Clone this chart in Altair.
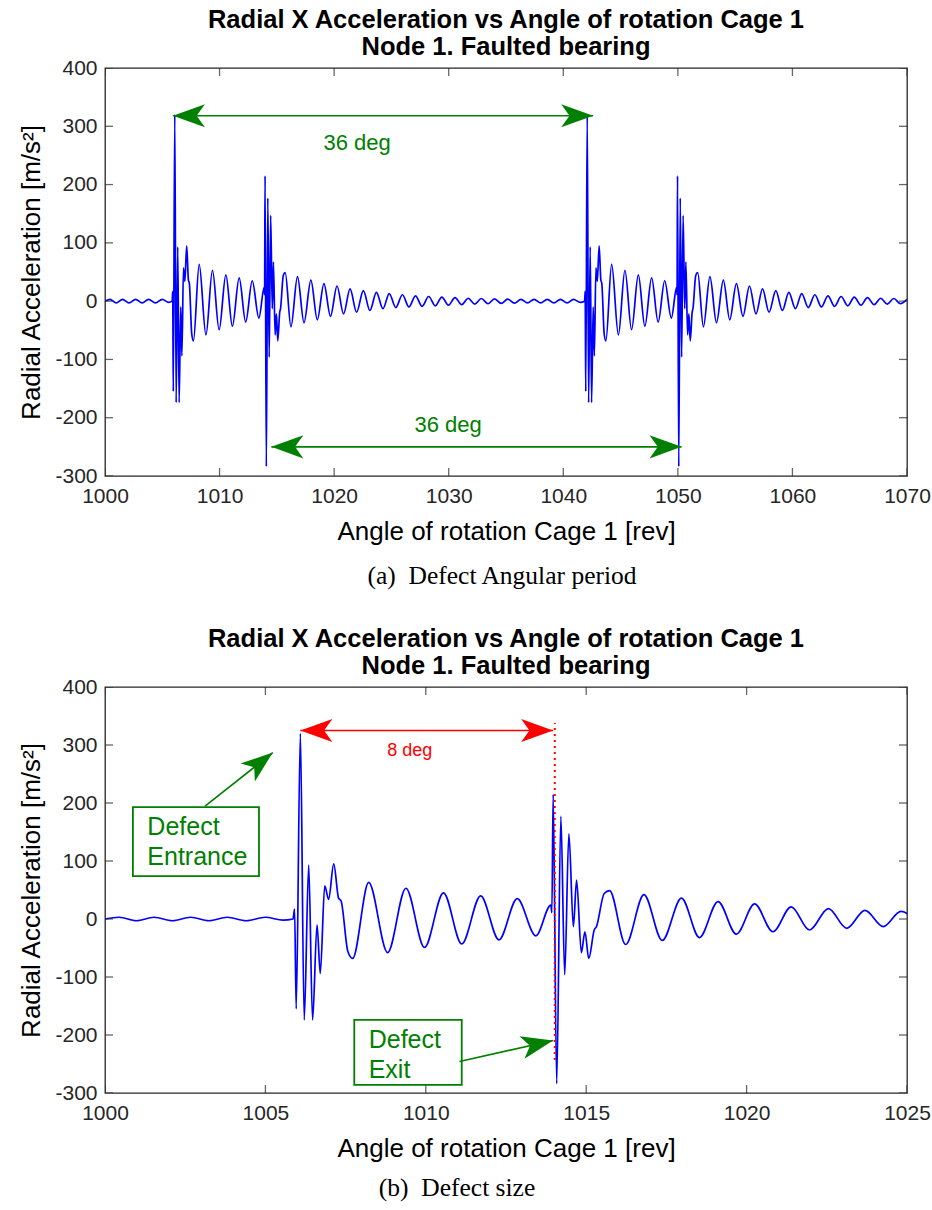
import altair as alt
import pandas as pd

# ---------------- values ----------------
# signal extrema (angle of rotation [rev], radial acceleration [m/s^2])
pre_x = [1000.0, 1000.44, 1000.98, 1001.53, 1002.10, 1002.67, 1003.24, 1003.81,
         1004.40, 1005.00, 1005.55, 1005.86]
pre_y = [0, 3, -3, 3, -3, 3, -3, 3, -3, 3, -2, 0]

burst1_x = [1005.91, 1005.96, 1006.09, 1006.21, 1006.35, 1006.47, 1006.61, 1006.71,
            1006.85, 1006.97, 1007.13, 1007.28, 1007.36, 1007.57, 1007.72, 1008.22,
            1008.81, 1009.38, 1009.96, 1010.55, 1011.12, 1011.71, 1012.28, 1012.85,
            1013.43, 1013.90, 1013.93, 1013.97, 1014.08, 1014.21, 1014.33, 1014.46,
            1014.60, 1014.70, 1014.85, 1014.96, 1015.08, 1015.25, 1015.32, 1015.56,
            1015.73]
burst1_y = [17, -155, 320, -174, 93, -174, -10, -94, 57, 34, 95, 36, 31, -56, -68, 63,
            -58, 53, -49, 45, -43, 40, -36, 35, -29, 24, 11, 215, -284, 177, -96, 147,
            -13, 67, -58, -22, -68, -19, -13, 44, 49]

decay1_x = [1016.23, 1016.80, 1017.37, 1017.97, 1018.53, 1019.11, 1019.68, 1020.25,
            1020.82, 1021.39, 1021.96, 1022.55, 1023.12, 1023.69, 1024.26, 1024.81,
            1025.38, 1025.96, 1026.53, 1027.10, 1027.68, 1028.25, 1028.83, 1029.40,
            1029.98, 1030.55, 1031.13, 1031.70, 1032.28, 1032.85, 1033.43, 1034.00,
            1034.58, 1035.15, 1035.73, 1036.30, 1036.88, 1037.45, 1038.03, 1038.60,
            1039.18, 1039.75, 1040.33, 1040.90, 1041.48, 1041.86]
decay1_y = [-44, 42, -37, 36, -32, 30, -26, 26, -22, 21, -19, 18, -16, 15, -13, 13,
            -11, 11, -10, 9, -9, 8, -8, 7, -7, 6, -6, 5, -5, 4.5, -4.5, 4,
            -4, 3.5, -3.5, 3, -3, 3, -3, 3, -3, 3, -3, 3, -2, 0]

burst2_x = [1041.91, 1041.96, 1042.09, 1042.21, 1042.35, 1042.47, 1042.61, 1042.71,
            1042.85, 1042.97, 1043.13, 1043.28, 1043.36, 1043.57, 1043.72, 1044.22,
            1044.81, 1045.38, 1045.96, 1046.55, 1047.12, 1047.71, 1048.28, 1048.85,
            1049.43, 1049.90, 1049.93, 1049.97, 1050.08, 1050.21, 1050.33, 1050.46,
            1050.60, 1050.70, 1050.85, 1050.96, 1051.08, 1051.25, 1051.32, 1051.56,
            1051.73]
burst2_y = [17, -155, 320, -174, 93, -174, -10, -94, 57, 34, 95, 36, 31, -56, -68, 63,
            -58, 53, -49, 45, -43, 40, -36, 35, -29, 24, 11, 215, -284, 177, -96, 147,
            -13, 67, -58, -22, -68, -19, -13, 44, 49]

decay2_x = [1052.23, 1052.80, 1053.37, 1053.97, 1054.53, 1055.11, 1055.68, 1056.25,
            1056.82, 1057.39, 1057.96, 1058.55, 1059.12, 1059.69, 1060.26, 1060.81,
            1061.38, 1061.96, 1062.53, 1063.10, 1063.68, 1064.25, 1064.83, 1065.40,
            1065.98, 1066.55, 1067.13, 1067.70, 1068.28, 1068.85, 1069.43, 1070.00]
decay2_y = [-44, 42, -37, 36, -32, 30, -26, 26, -22, 21, -19, 18, -16, 15, -13, 13,
            -11, 11, -10, 9, -9, 8, -8, 7, -7, 6, -6, 5, -5, 4.5, -4.5, 3]

xa_ticks = [1000, 1010, 1020, 1030, 1040, 1050, 1060, 1070]
xb_ticks = [1000, 1005, 1010, 1015, 1020, 1025]
y_ticks = [-300, -200, -100, 0, 100, 200, 300, 400]

title_lines = ["Radial X Acceleration vs Angle of rotation Cage 1",
               "Node 1. Faulted bearing"]
x_title = "Angle of rotation Cage 1 [rev]"
y_title = "Radial Acceleration [m/s²]"
captions = ["(a)\u00a0 Defect Angular period", "(b)\u00a0 Defect size"]

# annotations, panel (a): double arrows (x_from, x_to, y) and labels
a_arrows_x1 = [1005.93, 1014.52]
a_arrows_x2 = [1042.61, 1050.32]
a_arrows_y = [318, -250]
a_labels = ["36 deg", "36 deg"]
a_labels_x = [1022.0, 1029.95]
a_labels_y = [271, -212]

# annotations, panel (b)
b_arrow_x1, b_arrow_x2, b_arrow_y = 1006.09, 1013.97, 325
b_label, b_label_x, b_label_y = "8 deg", 1009.5, 289
b_dot_x, b_dot_y1, b_dot_y2 = 1014.02, -243, 338
box_x1 = [1000.87, 1007.77]
box_x2 = [1004.80, 1011.12]
box_y1 = [74, -174]
box_y2 = [193, -286]
box_text = ["Defect", "Entrance", "Defect", "Exit"]
box_text_x = [1001.32, 1001.32, 1008.22, 1008.22]
box_text_y = [159, 107, -209, -261]
ptr_x1 = [1003.12, 1011.05]
ptr_y1 = [194.5, -245.6]
ptr_x2 = [1005.23, 1013.97]
ptr_y2 = [286.9, -209.5]
ptr_angle = [321.6, 347.4]

# ---------------- styling ----------------
W = 802
H_A, H_B = 408, 406
FONT = "Liberation Sans"
SERIF = "Liberation Serif"
BLUE, GREEN, RED, AXC = "#0000FF", "#008000", "#FF0000", "#262626"
ARROW = "M0,0L-1,-0.36L-0.74,0L-1,0.36Z"
HEAD = 4096

sig = pd.DataFrame({
    "rev": pre_x + burst1_x + decay1_x + burst2_x + decay2_x,
    "acc": pre_y + burst1_y + decay1_y + burst2_y + decay2_y,
})


def make_enc(xdom, xticks):
    xs = alt.Scale(domain=xdom, nice=False, zero=False)
    ys = alt.Scale(domain=[-300, 400], nice=False, zero=False)
    ax = alt.Axis(values=xticks, labelExpr="'' + datum.value", title=x_title,
                  ticks=False, domain=False, grid=False, labelFontSize=21,
                  labelFont=FONT, labelColor=AXC, labelPadding=9, labelFlush=False,
                  titleFont=FONT, titleFontSize=26, titleFontWeight="normal",
                  titleColor="black", titlePadding=12)
    ay = alt.Axis(values=y_ticks, labelExpr="'' + datum.value", title=y_title,
                  ticks=False, domain=False, grid=False, labelFontSize=21,
                  labelFont=FONT, labelColor=AXC, labelPadding=8, labelFlush=False,
                  titleFont=FONT, titleFontSize=26, titleFontWeight="normal",
                  titleColor="black", titlePadding=10)

    def X(f):
        return alt.X(f, scale=xs, axis=ax)

    def Y(f):
        return alt.Y(f, scale=ys, axis=ay)
    return X, Y


def base_layers(data, xdom, xticks, caption, cap_x, cap_y, X, Y):
    line = alt.Chart(data).mark_line(
        color=BLUE, strokeWidth=1.7, interpolate="monotone", clip=True
    ).encode(x=X("rev:Q"), y=Y("acc:Q"))
    xt = pd.DataFrame({"rev": [t for t in xticks for _ in (0, 1)],
                       "acc": [v for _ in xticks for v in (-300, 400)]})
    yt = pd.DataFrame({"rev": [v for _ in y_ticks for v in xdom],
                       "acc": [t for t in y_ticks for _ in (0, 1)]})
    xtick = alt.Chart(xt).mark_tick(orient="vertical", size=16, thickness=1.3,
                                    color=AXC, clip=True).encode(x=X("rev:Q"), y=Y("acc:Q"))
    ytick = alt.Chart(yt).mark_tick(orient="horizontal", size=16, thickness=1.3,
                                    color=AXC, clip=True).encode(x=X("rev:Q"), y=Y("acc:Q"))
    cap = alt.Chart(pd.DataFrame({"t": [caption]})).mark_text(
        font=SERIF, fontSize=25.5, color="black", baseline="middle", align="center"
    ).encode(text="t:N", x=alt.value(cap_x), y=alt.value(cap_y))
    return [line, xtick, ytick, cap]


def arrowheads(df, color, X, Y):
    return alt.Chart(df).mark_point(shape=ARROW, filled=True, size=HEAD, color=color,
                                    opacity=1, strokeWidth=0).encode(
        x=X("x:Q"), y=Y("y:Q"), angle=alt.Angle("a:Q", scale=None))


title = alt.TitleParams(text=title_lines, font=FONT, fontSize=25.5, fontWeight="bold",
                        color="black", anchor="middle", frame="group", offset=-3,
                        lineHeight=27)

# ---------------- panel (a) ----------------
xa = [1000, 1070]
Xa, Ya = make_enc(xa, xa_ticks)
arr_a = pd.DataFrame({"x1": a_arrows_x1, "x2": a_arrows_x2, "y": a_arrows_y})
shaft_a = alt.Chart(arr_a).mark_rule(color=GREEN, strokeWidth=1.6).encode(
    x=Xa("x1:Q"), x2="x2:Q", y=Ya("y:Q"))
heads_a = pd.DataFrame({"x": a_arrows_x1 + a_arrows_x2, "y": a_arrows_y + a_arrows_y,
                        "a": [180, 180, 0, 0]})
lab_a = alt.Chart(pd.DataFrame({"x": a_labels_x, "y": a_labels_y, "t": a_labels})).mark_text(
    font=FONT, fontSize=22, color=GREEN, baseline="middle", align="center").encode(
    x=Xa("x:Q"), y=Ya("y:Q"), text="t:N")

panel_a = alt.layer(
    *base_layers(sig, xa, xa_ticks, captions[0], W / 2 - 4, H_A + 100, Xa, Ya),
    shaft_a, arrowheads(heads_a, GREEN, Xa, Ya), lab_a,
).properties(width=W, height=H_A, title=title)

# ---------------- panel (b) ----------------
xb = [1000, 1025]
Xb, Yb = make_enc(xb, xb_ticks)
sig_b = sig[sig["rev"] <= 1025.5]
shaft_b = alt.Chart(pd.DataFrame({"x1": [b_arrow_x1], "x2": [b_arrow_x2], "y": [b_arrow_y]})
                    ).mark_rule(color=RED, strokeWidth=1.6).encode(
    x=Xb("x1:Q"), x2="x2:Q", y=Yb("y:Q"))
heads_b = pd.DataFrame({"x": [b_arrow_x1, b_arrow_x2], "y": [b_arrow_y, b_arrow_y],
                        "a": [180, 0]})
dot_b = alt.Chart(pd.DataFrame({"x": [b_dot_x], "y1": [b_dot_y1], "y2": [b_dot_y2]})
                  ).mark_rule(color=RED, strokeWidth=2, strokeDash=[2, 4]).encode(
    x=Xb("x:Q"), y=Yb("y1:Q"), y2="y2:Q")
lab_b = alt.Chart(pd.DataFrame({"x": [b_label_x], "y": [b_label_y], "t": [b_label]})).mark_text(
    font=FONT, fontSize=18, color=RED, baseline="middle", align="center").encode(
    x=Xb("x:Q"), y=Yb("y:Q"), text="t:N")
boxes = alt.Chart(pd.DataFrame({"x1": box_x1, "x2": box_x2, "y1": box_y1, "y2": box_y2})
                  ).mark_rect(filled=False, stroke=GREEN, strokeWidth=1.8).encode(
    x=Xb("x1:Q"), x2="x2:Q", y=Yb("y1:Q"), y2="y2:Q")
box_lab = alt.Chart(pd.DataFrame({"x": box_text_x, "y": box_text_y, "t": box_text})).mark_text(
    font=FONT, fontSize=25, color=GREEN, baseline="middle", align="left").encode(
    x=Xb("x:Q"), y=Yb("y:Q"), text="t:N")
ptr = alt.Chart(pd.DataFrame({"x1": ptr_x1, "y1": ptr_y1, "x2": ptr_x2, "y2": ptr_y2})
                ).mark_rule(color=GREEN, strokeWidth=1.6).encode(
    x=Xb("x1:Q"), x2="x2:Q", y=Yb("y1:Q"), y2="y2:Q")
ptr_heads = pd.DataFrame({"x": ptr_x2, "y": ptr_y2, "a": ptr_angle})

panel_b = alt.layer(
    *base_layers(sig_b, xb, xb_ticks, captions[1], 352, H_B + 95, Xb, Yb),
    dot_b, shaft_b, arrowheads(heads_b, RED, Xb, Yb), lab_b,
    boxes, box_lab, ptr, arrowheads(ptr_heads, GREEN, Xb, Yb),
).properties(width=W, height=H_B, title=title)

chart = alt.vconcat(panel_a, panel_b, spacing=34).properties(
    padding={"left": 18, "top": 6, "right": 0, "bottom": 0}
).configure_view(stroke=AXC, strokeWidth=1.3)

chart.save("out.html", embed_options={"renderer": "svg", "actions": False})
